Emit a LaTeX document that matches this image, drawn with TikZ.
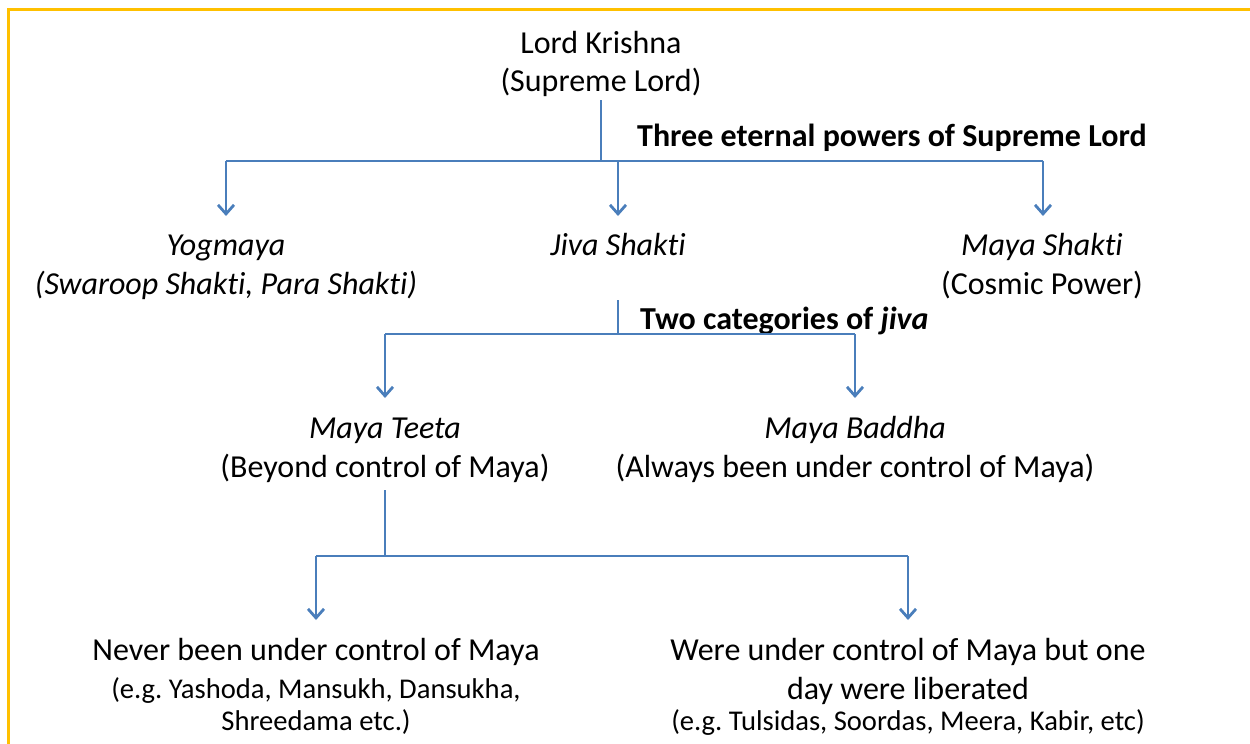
\documentclass[tikz,border=0pt]{standalone}
\usepackage{fontspec}
\setmainfont[Ligatures=NoCommon]{Carlito}
\usetikzlibrary{arrows.meta}
\definecolor{gold}{HTML}{FFC000}
\definecolor{conn}{HTML}{4A7EBB}
\frenchspacing
\tikzset{
  big/.style={inner sep=0pt, anchor=base, font=\fontsize{32}{38}\selectfont},
  small/.style={inner sep=0pt, anchor=base, font=\fontsize{28.6}{32}\selectfont},
  lbl/.style={inner sep=0pt, anchor=base west, font=\fontsize{32}{38}\selectfont\bfseries},
  link/.style={draw=conn, line width=2.8pt},
  arr/.style={link, -{Straight Barb[length=9pt,width=16pt,line width=2.8pt]}},
  frame/.style={draw=gold, line width=3pt}
}
\begin{document}
\begin{tikzpicture}[x=1pt,y=-1pt]
\useasboundingbox (0,0) rectangle (1250,744);
\draw[frame] (1250,9.5) -- (8.5,9.5) -- (8.5,744);
% top
\node[big] (lk1) at (601,53) {Lord Krishna};
\node[big] (lk2) at (601,91) {(Supreme Lord)};
\node[lbl] (l1) at (637,146) {Three eternal powers of Supreme Lord};
% level 1
\node[big] (yog1) at (226,255) {\itshape Yogmaya};
\node[big] (yog2) at (226,294) {\itshape (Swaroop Shakti, Para Shakti)};
\node[big] (jiva) at (618,255) {\itshape Jiva Shakti};
\node[big] (ms1) at (1042,255) {\itshape Maya Shakti};
\node[big] (ms2) at (1042,294) {(Cosmic Power)};
\node[lbl] (l2) at (640,329) {Two categories of \itshape jiva};
% level 2
\node[big] (mt1) at (385,438) {\itshape Maya Teeta};
\node[big] (mt2) at (385,477) {(Beyond control of Maya)};
\node[big] (mb1) at (855,438) {\itshape Maya Baddha};
\node[big] (mb2) at (855,477) {(Always been under control of Maya)};
% level 3
\node[big] (nb1) at (316,660) {Never been under control of Maya};
\node[small] (nb2) at (316,698) {(e.g. Yashoda, Mansukh, Dansukha,};
\node[small] (nb3) at (316,730) {Shreedama etc.)};
\node[big] (wu1) at (908,660) {Were under control of Maya but one};
\node[big] (wu2) at (908,699) {day were liberated};
\node[small] (wu3) at (908,730) {(e.g. Tulsidas, Soordas, Meera, Kabir, etc)};
% connectors
\coordinate (j1) at (601,161);
\draw[link] (601,100) -- (j1);
\draw[link] (226,161) -- (1043,161);
\draw[arr] (226,161) -- (226,216);
\draw[arr] (618,161) -- (618,216);
\draw[arr] (1043,161) -- (1043,216);
\draw[link] (618,300) -- (618,334);
\draw[link] (385,334) -- (855,334);
\draw[arr] (385,334) -- (385,398);
\draw[arr] (855,334) -- (855,398);
\draw[link] (385,490) -- (385,556);
\draw[link] (316,556) -- (908,556);
\draw[arr] (316,556) -- (316,620);
\draw[arr] (908,556) -- (908,620);
\end{tikzpicture}
\end{document}
